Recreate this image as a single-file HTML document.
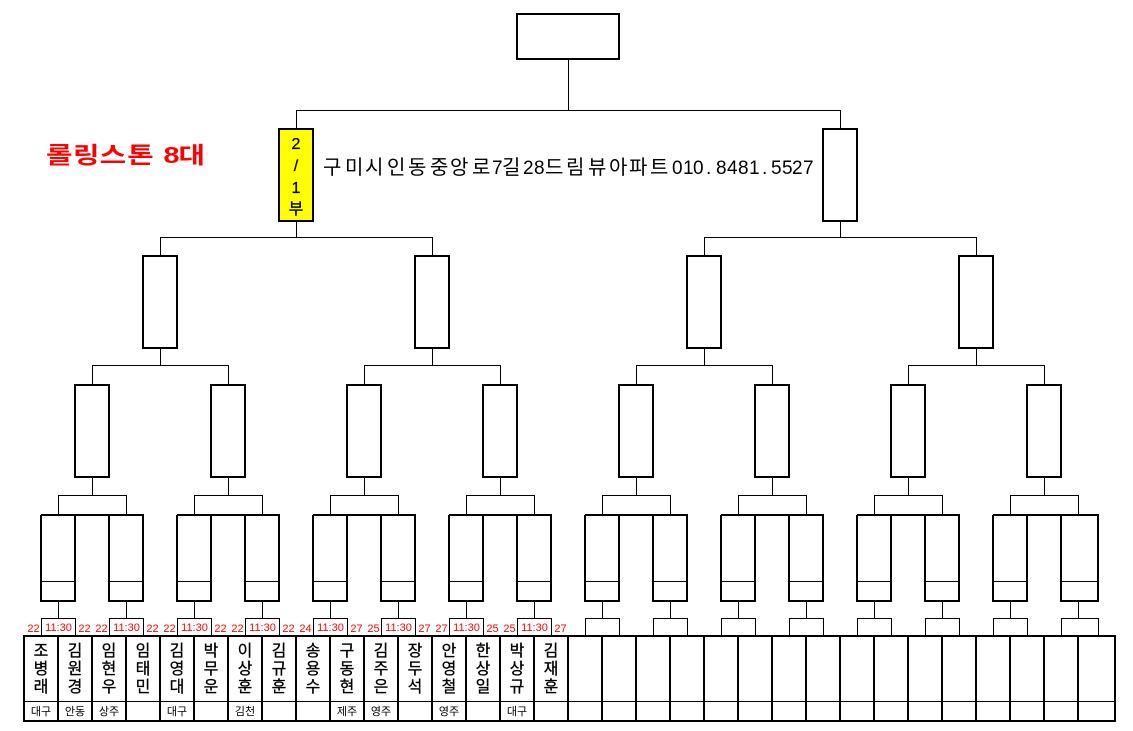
<!DOCTYPE html>
<html><head><meta charset="utf-8"><style>
html,body{margin:0;padding:0;background:#fff;width:1133px;height:731px;overflow:hidden}
svg{display:block}
text{font-family:"Liberation Sans","Noto Sans CJK KR",sans-serif}
.n{font-size:16px;text-anchor:middle;fill:#000;stroke:#000;stroke-width:.3}
.c{font-size:11px;text-anchor:middle;fill:#000}
.r{font-size:11px;text-anchor:middle;fill:#f00}
.t{stroke:#000;stroke-width:2;fill:none;shape-rendering:crispEdges}
.l{stroke:#000;stroke-width:1;fill:none;shape-rendering:crispEdges}
</style></head><body>
<svg width="1133" height="731" viewBox="0 0 1133 731" xmlns="http://www.w3.org/2000/svg">
<defs>
<g id="g4">
<path class="l" d="M58.5 495.5H126.5M92.5 477V495.5M58.5 495V515M126.5 495V515M41 581.5H75M109 581.5H143M58.5 601V618M126.5 601V618M41.5 618.5H75.5V636M41.5 618V636M109.5 618.5H143.5V636M109.5 618V636"/>
<path class="t" d="M41 515H143V601H109V515M75 515V601H41V515"/>
</g>
<g id="g3">
<path class="l" d="M92.5 365.5H228.5M160.5 348V365.5M92.5 365V385M228.5 365V385"/>
<rect class="t" x="75" y="385" width="34" height="92"/>
<rect class="t" x="211" y="385" width="34" height="92"/>
</g>
<g id="g2">
<rect class="t" x="143" y="256" width="34" height="92"/>
<rect class="t" x="415" y="256" width="34" height="92"/>
<path class="l" d="M160.5 237.5H432.5M296.5 221V237.5M160.5 237V256M432.5 237V256"/>
</g>
</defs>
<use href="#g4"/><use href="#g4" x="136"/><use href="#g4" x="272"/><use href="#g4" x="408"/><use href="#g4" x="544"/><use href="#g4" x="680"/><use href="#g4" x="816"/>
<path class="l" d="M1010.5 495.5H1078.5M1044.5 477V495.5M1010.5 495V515M1078.5 495V515M993 581.5H1027M1061 581.5H1098M1010.5 601V618M1078.5 601V618M993.5 618.5H1027.5V636M993.5 618V636M1061.5 618.5H1098.5V636M1061.5 618V636"/>
<path class="t" d="M993 515H1098V601H1061V515M1027 515V601H993V515"/>
<use href="#g3"/><use href="#g3" x="272"/><use href="#g3" x="544"/><use href="#g3" x="816"/>
<use href="#g2"/><use href="#g2" x="544"/>
<path class="l" d="M296.5 110.5H840.5M568.5 59V110.5M296.5 110V129M840.5 110V129"/>
<rect class="t" x="517" y="14" width="102" height="45" fill="#fff"/>
<rect class="t" x="279" y="129" width="34" height="92" style="fill:#ff0"/>
<rect class="t" x="823" y="129" width="34" height="92"/>
<path class="l" d="M24 701.5H1115"/>
<path class="t" d="M24 636H1115V721H24ZM58 636V721M92 636V721M126 636V721M160 636V721M194 636V721M228 636V721M262 636V721M296 636V721M330 636V721M364 636V721M398 636V721M432 636V721M466 636V721M500 636V721M534 636V721M568 636V721M602 636V721M636 636V721M670 636V721M704 636V721M738 636V721M772 636V721M806 636V721M840 636V721M874 636V721M908 636V721M942 636V721M976 636V721M1010 636V721M1044 636V721M1078 636V721"/>
<text transform="translate(46,163) scale(1.25,1)" x="0 21.6 43 65 94 106" y="0" style="font-size:23px;font-weight:bold;fill:#f00">롤링스톤8대</text>
<text x="323 345 365 387 408 430 450 472 492 502 523 534 545 566 588 609 629 650 672 683 693 706 716 727 738 749 762 771 782 792 803" y="174" style="font-size:20px;fill:#000">구미시인동중앙로<tspan style="font-size:19px">7</tspan>길<tspan style="font-size:19px">28</tspan>드림뷰아파트<tspan style="font-size:19px">010.8481.5527</tspan></text>
<text class="n" x="296" y="149">2</text><text class="n" x="296" y="171">/</text><text class="n" x="296" y="193">1</text><text class="n" x="296" y="214">부</text>
<text class="n" x="41" y="656">조</text><text class="n" x="41" y="674">병</text><text class="n" x="41" y="692">래</text>
<text class="n" x="75" y="656">김</text><text class="n" x="75" y="674">원</text><text class="n" x="75" y="692">경</text>
<text class="n" x="109" y="656">임</text><text class="n" x="109" y="674">현</text><text class="n" x="109" y="692">우</text>
<text class="n" x="143" y="656">임</text><text class="n" x="143" y="674">태</text><text class="n" x="143" y="692">민</text>
<text class="n" x="177" y="656">김</text><text class="n" x="177" y="674">영</text><text class="n" x="177" y="692">대</text>
<text class="n" x="211" y="656">박</text><text class="n" x="211" y="674">무</text><text class="n" x="211" y="692">운</text>
<text class="n" x="245" y="656">이</text><text class="n" x="245" y="674">상</text><text class="n" x="245" y="692">훈</text>
<text class="n" x="279" y="656">김</text><text class="n" x="279" y="674">규</text><text class="n" x="279" y="692">훈</text>
<text class="n" x="313" y="656">송</text><text class="n" x="313" y="674">용</text><text class="n" x="313" y="692">수</text>
<text class="n" x="347" y="656">구</text><text class="n" x="347" y="674">동</text><text class="n" x="347" y="692">현</text>
<text class="n" x="381" y="656">김</text><text class="n" x="381" y="674">주</text><text class="n" x="381" y="692">은</text>
<text class="n" x="415" y="656">장</text><text class="n" x="415" y="674">두</text><text class="n" x="415" y="692">석</text>
<text class="n" x="449" y="656">안</text><text class="n" x="449" y="674">영</text><text class="n" x="449" y="692">철</text>
<text class="n" x="483" y="656">한</text><text class="n" x="483" y="674">상</text><text class="n" x="483" y="692">일</text>
<text class="n" x="517" y="656">박</text><text class="n" x="517" y="674">상</text><text class="n" x="517" y="692">규</text>
<text class="n" x="551" y="656">김</text><text class="n" x="551" y="674">재</text><text class="n" x="551" y="692">훈</text>
<text class="c" x="41" y="715">대구</text><text class="c" x="75" y="715">안동</text><text class="c" x="109" y="715">상주</text><text class="c" x="177" y="715">대구</text><text class="c" x="245" y="715">김천</text><text class="c" x="347" y="715">제주</text><text class="c" x="381" y="715">영주</text><text class="c" x="449" y="715">영주</text><text class="c" x="517" y="715">대구</text>
<text class="r" x="58.5" y="631">11:30</text><text class="r" x="126.5" y="631">11:30</text><text class="r" x="194.5" y="631">11:30</text><text class="r" x="262.5" y="631">11:30</text><text class="r" x="330.5" y="631">11:30</text><text class="r" x="398.5" y="631">11:30</text><text class="r" x="466.5" y="631">11:30</text><text class="r" x="534.5" y="631">11:30</text>
<text class="r" x="33.5" y="632">22</text><text class="r" x="84.5" y="632">22</text><text class="r" x="101.5" y="632">22</text><text class="r" x="152.5" y="632">22</text><text class="r" x="169.5" y="632">22</text><text class="r" x="220.5" y="632">22</text><text class="r" x="237.5" y="632">22</text><text class="r" x="288.5" y="632">22</text>
<text class="r" x="305.5" y="632">24</text><text class="r" x="356.5" y="632">27</text><text class="r" x="373.5" y="632">25</text><text class="r" x="424.5" y="632">27</text><text class="r" x="441.5" y="632">27</text><text class="r" x="492.5" y="632">25</text><text class="r" x="509.5" y="632">25</text><text class="r" x="560.5" y="632">27</text>
</svg>
</body></html>
